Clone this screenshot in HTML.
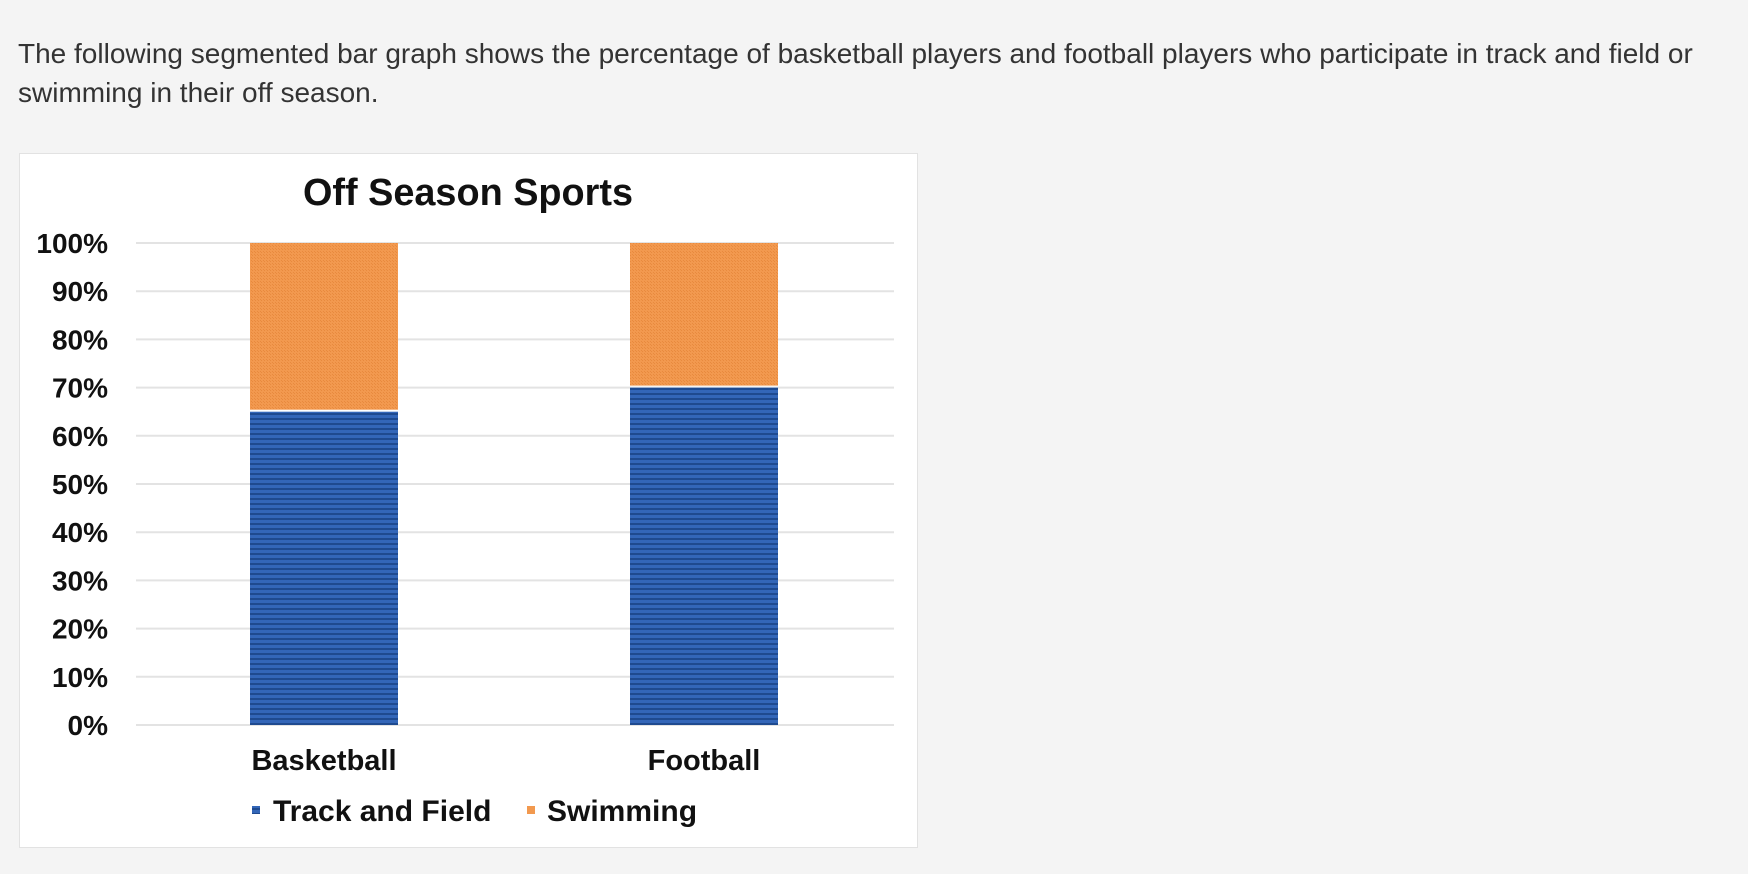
<!DOCTYPE html>
<html><head><meta charset="utf-8"><style>
html,body{margin:0;padding:0;background:#f4f4f4;width:1748px;height:874px;overflow:hidden;font-family:"Liberation Sans",Arial,sans-serif;}
#q{position:absolute;left:18px;top:34px;width:1725px;font-size:28px;line-height:39px;color:#333;}
#box{position:absolute;left:19px;top:153px;width:897px;height:693px;background:#fff;border:1px solid #e2e2e2;}
</style></head><body>
<div id="q">The following segmented bar graph shows the percentage of basketball players and football players who participate in track and field or swimming in their off season.</div>
<div id="box"></div>
<svg id="chart" width="1748" height="874" style="position:absolute;left:0;top:0">
<defs>
<pattern id="blue" width="4" height="5" patternUnits="userSpaceOnUse"><rect width="4" height="5" fill="#3366b8"/><rect y="3" width="4" height="2" fill="#1f4a8f"/></pattern>
<pattern id="orange" width="3" height="3" patternUnits="userSpaceOnUse"><rect width="3" height="3" fill="#f2994f"/><rect width="1" height="1" fill="#e88a3e"/><rect x="2" y="2" width="1" height="1" fill="#e88a3e"/></pattern>
</defs>
<text x="468" y="205" text-anchor="middle" font-size="38" font-weight="bold" fill="#111" textLength="330" lengthAdjust="spacingAndGlyphs">Off Season Sports</text>
<g id="grid"></g><g id="bars"></g><g id="labels"></g>
<g>
<rect x="252" y="806" width="8" height="8" fill="url(#blue)"/>
<text x="273" y="821" font-size="30" font-weight="bold" fill="#111">Track and Field</text>
<rect x="527" y="806" width="8" height="8" fill="#f2994f"/>
<text x="547" y="821" font-size="30" font-weight="bold" fill="#111">Swimming</text>
</g>
</svg>
<script>
const categories=["Basketball","Football"];
const trackValues=[65,70];
const swimValues=[35,30];
const tickValues=[0,10,20,30,40,50,60,70,80,90,100];
const ns="http://www.w3.org/2000/svg";
const y0=725,yTop=243,x0=136,x1=894;
function yScale(v){return y0-(v/100)*(y0-yTop);}
const centers=[324,704],bw=148;
function mk(tag,attrs,parent){const e=document.createElementNS(ns,tag);for(const k in attrs)e.setAttribute(k,attrs[k]);document.getElementById(parent).appendChild(e);return e;}
tickValues.forEach(t=>{
 const l=mk('line',{x1:x0,x2:x1,y1:yScale(t),y2:yScale(t),stroke:'#e3e3e3','stroke-width':2},'grid');
 
 
 const tx=mk('text',{x:108,y:yScale(t)+10,'text-anchor':'end','font-size':28,'font-weight':'bold',fill:'#111'},'labels');
 tx.textContent=t+'%';
 
 
});
categories.forEach((c,i)=>{
 const cx=centers[i];
 const b=mk('rect',{x:cx-bw/2,y:yScale(trackValues[i]),width:bw,height:yScale(0)-yScale(trackValues[i]),fill:'url(#blue)'},'bars');
 
 
 const top=trackValues[i]+swimValues[i];
 const s=mk('rect',{x:cx-bw/2,y:yScale(top),width:bw,height:yScale(trackValues[i])-yScale(top)-2,fill:'url(#orange)'},'bars');
 
 
 const t=mk('text',{x:cx,y:770,'text-anchor':'middle','font-size':29,'font-weight':'bold',fill:'#111'},'labels');
 t.textContent=c;
 
 
});
</script>
</body></html>
